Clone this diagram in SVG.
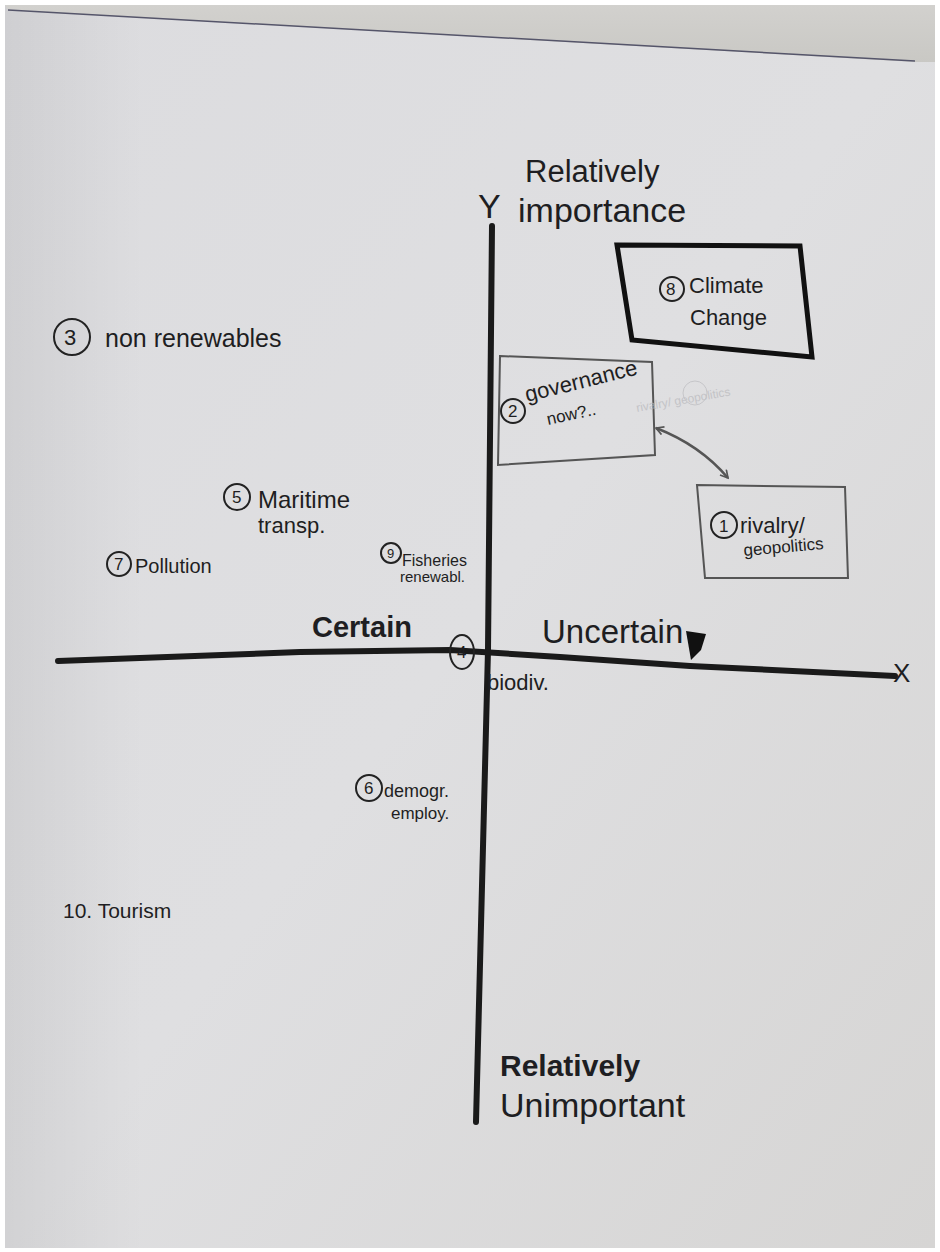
<svg xmlns="http://www.w3.org/2000/svg" width="940" height="1252" viewBox="0 0 940 1252">
  <defs>
    <linearGradient id="paper" x1="0" y1="0" x2="1" y2="1">
      <stop offset="0" stop-color="#dcdcdf"/>
      <stop offset="0.5" stop-color="#dfdfe1"/>
      <stop offset="1" stop-color="#d6d5d4"/>
    </linearGradient>
    <linearGradient id="shade" x1="0" y1="0" x2="1" y2="0">
      <stop offset="0" stop-color="#000" stop-opacity="0.06"/>
      <stop offset="0.15" stop-color="#000" stop-opacity="0"/>
    </linearGradient>
    <linearGradient id="roll" x1="0" y1="0" x2="0" y2="1">
      <stop offset="0" stop-color="#d2d1ce"/>
      <stop offset="1" stop-color="#c9c8c4"/>
    </linearGradient>
    <marker id="ah" viewBox="0 0 12 12" refX="10" refY="6" markerWidth="10" markerHeight="10" orient="auto-start-reverse" markerUnits="userSpaceOnUse">
      <path d="M1,1 L10,6 L1,11" fill="none" stroke="#555" stroke-width="2"/>
    </marker>
    <style>
      .ink{font-family:"Liberation Sans","DejaVu Sans",sans-serif;fill:#1e1e22}
      .ring{fill:none;stroke:#222;stroke-width:2}
      .faint{font-family:"Liberation Sans",sans-serif;fill:#b8b8bc;font-size:12px}
    </style>
  </defs>

  <rect x="0" y="0" width="940" height="1252" fill="#ffffff"/>
  <rect x="5" y="5" width="930" height="1243" fill="url(#paper)"/>
  <rect x="5" y="5" width="930" height="1243" fill="url(#shade)"/>
  <path d="M5,5 L935,5 L935,62 L915,62 L8,10 Z" fill="url(#roll)"/>
  <path d="M8,10 L915,61" stroke="#55556a" stroke-width="1.5" fill="none"/>

  <g id="axes" stroke="#1a1a1a" fill="none" stroke-linecap="round">
    <path d="M492,226 L488,650 L476,1122" stroke-width="6"/>
    <path d="M58,661 L300,652 L450,650 L560,657 L690,666 L895,676" stroke-width="6"/>
  </g>

  <g id="y-axis-label">
    <text class="ink" x="478" y="218" font-size="34">Y</text>
    <text class="ink" x="525" y="182" font-size="31">Relatively</text>
    <text class="ink" x="518" y="222" font-size="34">importance</text>
  </g>

  <g id="x-axis-label">
    <text class="ink" x="893" y="682" font-size="26">X</text>
  </g>

  <g id="certain">
    <text class="ink" x="312" y="637" font-weight="bold" font-size="29">Certain</text>
  </g>
  <g id="uncertain">
    <text class="ink" x="542" y="643" font-size="33">Uncertain</text>
    <path d="M686,631 L706,634 L701,650 L691,660 Z" fill="#111"/>
  </g>

  <g id="bottom-label">
    <text class="ink" x="500" y="1076" font-weight="bold" font-size="30">Relatively</text>
    <text class="ink" x="500" y="1117" font-size="34">Unimportant</text>
  </g>

  <g id="node-8-climate">
    <path d="M617,245 L800,246 L812,357 L632,340 Z" fill="none" stroke="#111" stroke-width="5"/>
    <circle class="ring" cx="672" cy="289" r="12"/>
    <text class="ink" x="666" y="295" font-size="17">8</text>
    <text class="ink" x="689" y="293" font-size="22">Climate</text>
    <text class="ink" x="690" y="325" font-size="22">Change</text>
  </g>

  <g id="node-2-governance">
    <path d="M500,356 L652,362 L655,455 L498,465 Z" fill="none" stroke="#555" stroke-width="2"/>
    <circle class="ring" cx="513" cy="411" r="12"/>
    <text class="ink" x="508" y="417" font-size="17">2</text>
    <text class="ink" x="527" y="402" font-size="22" transform="rotate(-14 527 402)">governance</text>
    <text class="ink" x="548" y="425" font-size="17" transform="rotate(-12 548 425)">now?..</text>
    <g opacity="0.7">
      <circle cx="695" cy="393" r="12" fill="none" stroke="#bcbcc0" stroke-width="1"/>
      <text class="faint" x="637" y="412" transform="rotate(-10 637 412)">rivalry/ geopolitics</text>
    </g>
  </g>

  <g id="node-1-rivalry">
    <path d="M697,485 L845,487 L848,578 L705,578 Z" fill="none" stroke="#555" stroke-width="2"/>
    <circle class="ring" cx="724" cy="525" r="13"/>
    <text class="ink" x="719" y="532" font-size="17">1</text>
    <text class="ink" x="740" y="533" font-size="22">rivalry/</text>
    <text class="ink" x="744" y="556" font-size="17" transform="rotate(-5 744 556)">geopolitics</text>
  </g>

  <g id="connectors">
    <path d="M656,428 Q700,445 728,478" fill="none" stroke="#555" stroke-width="2.5" marker-start="url(#ah)" marker-end="url(#ah)"/>
  </g>

  <g id="node-3-nonrenewables">
    <circle class="ring" cx="72" cy="337" r="18"/>
    <text class="ink" x="64" y="345" font-size="22">3</text>
    <text class="ink" x="105" y="347" font-size="25">non renewables</text>
  </g>

  <g id="node-5-maritime">
    <circle class="ring" cx="237" cy="497" r="13"/>
    <text class="ink" x="232" y="503" font-size="17">5</text>
    <text class="ink" x="258" y="508" font-size="24">Maritime</text>
    <text class="ink" x="258" y="533" font-size="22">transp.</text>
  </g>

  <g id="node-7-pollution">
    <circle class="ring" cx="119" cy="564" r="12"/>
    <text class="ink" x="114" y="570" font-size="17">7</text>
    <text class="ink" x="135" y="573" font-size="20">Pollution</text>
  </g>

  <g id="node-9-fisheries">
    <circle class="ring" cx="391" cy="553" r="10"/>
    <text class="ink" x="387" y="558" font-size="13">9</text>
    <text class="ink" x="402" y="566" font-size="16">Fisheries</text>
    <text class="ink" x="400" y="582" font-size="15">renewabl.</text>
  </g>

  <g id="node-4-biodiv">
    <ellipse class="ring" cx="462" cy="652" rx="12" ry="17"/>
    <text class="ink" x="457" y="658" font-size="17">4</text>
    <text class="ink" x="487" y="690" font-size="22">biodiv.</text>
  </g>

  <g id="node-6-demogr">
    <circle class="ring" cx="369" cy="788" r="13"/>
    <text class="ink" x="364" y="794" font-size="17">6</text>
    <text class="ink" x="384" y="797" font-size="18">demogr.</text>
    <text class="ink" x="391" y="819" font-size="17">employ.</text>
  </g>

  <g id="node-10-tourism">
    <text class="ink" x="63" y="918" font-size="21">10. Tourism</text>
  </g>
</svg>
